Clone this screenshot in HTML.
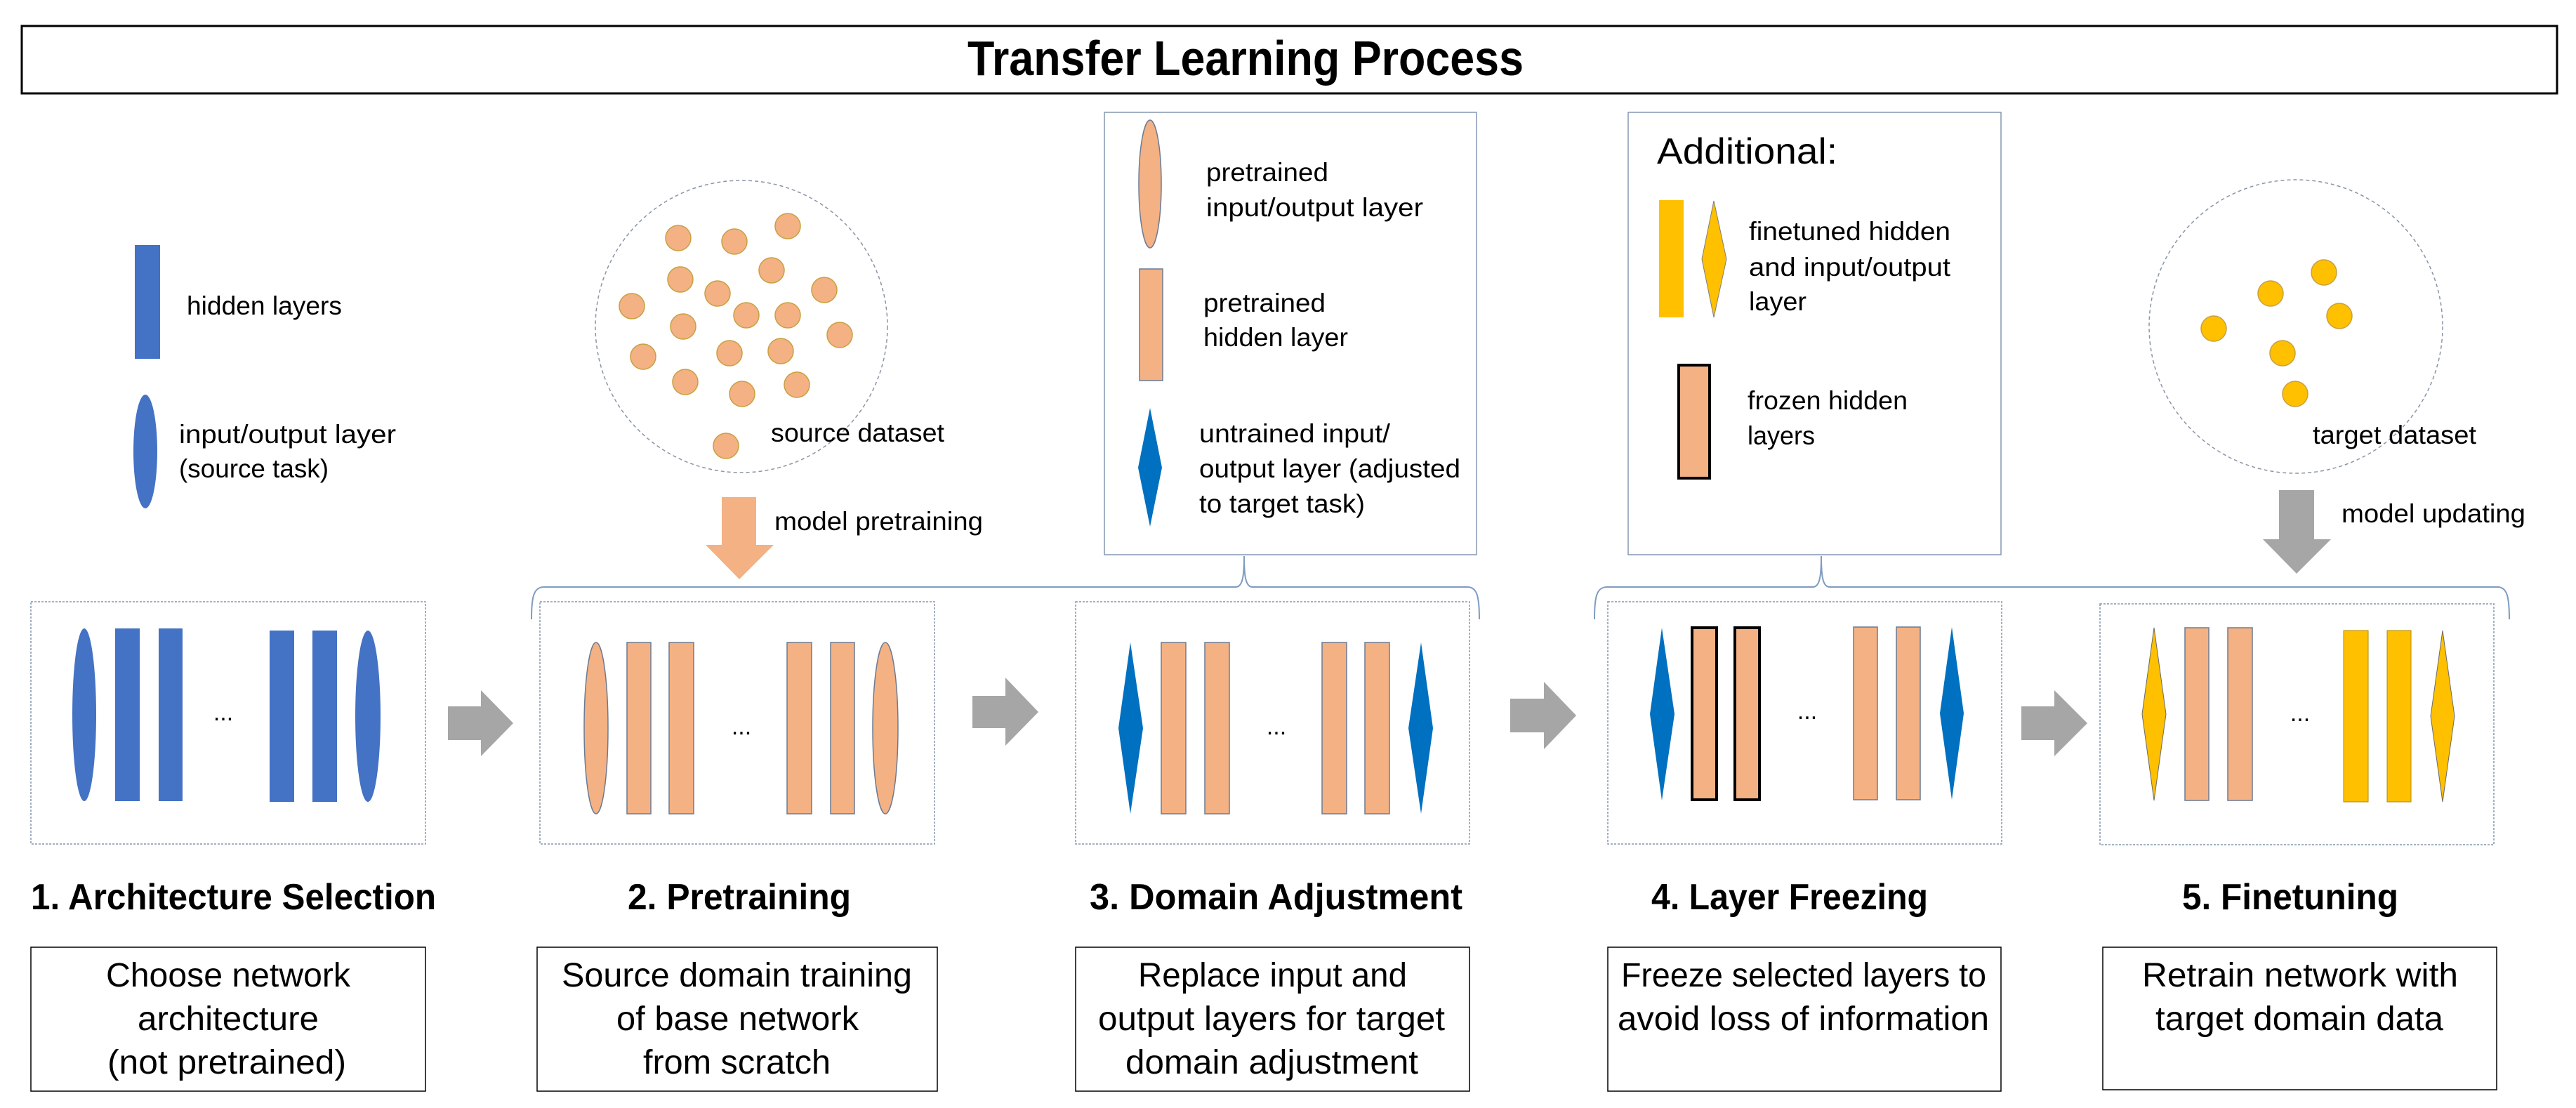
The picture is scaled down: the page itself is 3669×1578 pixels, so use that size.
<!DOCTYPE html>
<html><head><meta charset="utf-8"><style>
html,body{margin:0;padding:0;background:#fff;}
svg{display:block;}
text{font-family:"Liberation Sans",sans-serif;fill:#000;}
</style></head><body>
<svg width="3669" height="1578" viewBox="0 0 3669 1578" xmlns="http://www.w3.org/2000/svg">
<rect x="31" y="37" width="3611" height="96" fill="#fff" stroke="#000" stroke-width="3"/>
<text x="1378" y="107" font-size="70" font-weight="bold" textLength="792" lengthAdjust="spacingAndGlyphs">Transfer Learning Process</text>

<rect x="192" y="349" width="36" height="162" fill="#4472C4"/>
<text x="266" y="448" font-size="37" textLength="221" lengthAdjust="spacingAndGlyphs">hidden layers</text>
<ellipse cx="207" cy="643" rx="17" ry="81" fill="#4472C4"/>
<text x="255" y="631" font-size="37" textLength="309" lengthAdjust="spacingAndGlyphs">input/output layer</text>
<text x="255" y="680" font-size="37" textLength="213" lengthAdjust="spacingAndGlyphs">(source task)</text>

<circle cx="1056" cy="465" r="208" fill="none" stroke="#8A95A5" stroke-width="1.5" stroke-dasharray="5,4"/>
<g fill="#F4B183" stroke="#C8A040" stroke-width="1.5">
<ellipse cx="966" cy="339" rx="18" ry="18"/><ellipse cx="1046" cy="344" rx="18" ry="18"/><ellipse cx="1122" cy="322" rx="18" ry="18"/>
<ellipse cx="1099" cy="385" rx="18" ry="18"/><ellipse cx="969" cy="398" rx="18" ry="18"/><ellipse cx="1022" cy="418" rx="18" ry="18"/>
<ellipse cx="1174" cy="413" rx="18" ry="18"/><ellipse cx="900" cy="436" rx="18" ry="18"/><ellipse cx="1063" cy="449" rx="18" ry="18"/>
<ellipse cx="1122" cy="449" rx="18" ry="18"/><ellipse cx="973" cy="465" rx="18" ry="18"/><ellipse cx="1196" cy="477" rx="18" ry="18"/>
<ellipse cx="916" cy="508" rx="18" ry="18"/><ellipse cx="1039" cy="503" rx="18" ry="18"/><ellipse cx="1112" cy="500" rx="18" ry="18"/>
<ellipse cx="976" cy="544" rx="18" ry="18"/><ellipse cx="1057" cy="561" rx="18" ry="18"/><ellipse cx="1135" cy="548" rx="18" ry="18"/>
<ellipse cx="1034" cy="635" rx="18" ry="18"/>
</g>
<text x="1098" y="629" font-size="37" textLength="247" lengthAdjust="spacingAndGlyphs">source dataset</text>
<polygon points="1028,708 1077,708 1077,776 1102,776 1053,825 1005,776 1028,776" fill="#F4B183"/>
<text x="1103" y="755" font-size="37" textLength="297" lengthAdjust="spacingAndGlyphs">model pretraining</text>

<rect x="1573" y="160" width="530" height="630" fill="#fff" stroke="#8497B0" stroke-width="1.5"/>
<ellipse cx="1638" cy="262" rx="16" ry="91" fill="#F4B183" stroke="#6B7B95" stroke-width="1.5"/>
<text x="1718" y="258" font-size="37" textLength="174" lengthAdjust="spacingAndGlyphs">pretrained</text>
<text x="1718" y="308" font-size="37" textLength="309" lengthAdjust="spacingAndGlyphs">input/output layer</text>
<rect x="1623" y="383" width="33" height="159" fill="#F4B183" stroke="#6B7B95" stroke-width="1.5"/>
<text x="1714" y="444" font-size="37" textLength="174" lengthAdjust="spacingAndGlyphs">pretrained</text>
<text x="1714" y="493" font-size="37" textLength="206" lengthAdjust="spacingAndGlyphs">hidden layer</text>
<polygon points="1638,581 1655,666 1638,750 1621,666" fill="#0070C0"/>
<text x="1708" y="630" font-size="37" textLength="272" lengthAdjust="spacingAndGlyphs">untrained input/</text>
<text x="1708" y="680" font-size="37" textLength="372" lengthAdjust="spacingAndGlyphs">output layer (adjusted</text>
<text x="1708" y="730" font-size="37" textLength="236" lengthAdjust="spacingAndGlyphs">to target task)</text>

<rect x="2319" y="160" width="531" height="630" fill="#fff" stroke="#8497B0" stroke-width="1.5"/>
<text x="2360" y="233" font-size="52" textLength="257" lengthAdjust="spacingAndGlyphs">Additional:</text>
<rect x="2363" y="285" width="35" height="167" fill="#FFC000"/>
<polygon points="2441,286 2459,369 2441,452 2424,369" fill="#FFC000" stroke="#7F7F7F" stroke-width="1"/>
<text x="2491" y="342" font-size="37" textLength="287" lengthAdjust="spacingAndGlyphs">finetuned hidden</text>
<text x="2491" y="393" font-size="37" textLength="287" lengthAdjust="spacingAndGlyphs">and input/output</text>
<text x="2491" y="442" font-size="37" textLength="82" lengthAdjust="spacingAndGlyphs">layer</text>
<rect x="2391" y="520" width="44" height="161" fill="#F4B183" stroke="#000" stroke-width="4"/>
<text x="2489" y="583" font-size="37" textLength="228" lengthAdjust="spacingAndGlyphs">frozen hidden</text>
<text x="2489" y="633" font-size="37" textLength="96" lengthAdjust="spacingAndGlyphs">layers</text>

<circle cx="3270" cy="465" r="209" fill="none" stroke="#8A95A5" stroke-width="1.5" stroke-dasharray="5,4"/>
<g fill="#FFC000" stroke="#C8A040" stroke-width="1.5">
<ellipse cx="3310" cy="388" rx="18" ry="18"/><ellipse cx="3234" cy="418" rx="18" ry="18"/><ellipse cx="3332" cy="450" rx="18" ry="18"/>
<ellipse cx="3153" cy="468" rx="18" ry="18"/><ellipse cx="3251" cy="503" rx="18" ry="18"/><ellipse cx="3269" cy="561" rx="18" ry="18"/>
</g>
<text x="3294" y="632" font-size="37" textLength="233" lengthAdjust="spacingAndGlyphs">target dataset</text>
<polygon points="3246,698 3296,698 3296,768 3320,768 3271,817 3223,768 3246,768" fill="#A6A6A6"/>
<text x="3335" y="744" font-size="37" textLength="262" lengthAdjust="spacingAndGlyphs">model updating</text>

<path d="M757,882 C757,850 760,836 775,836 L1760,836 C1770,836 1772,820 1772,792 C1772,820 1774,836 1784,836 L2090,836 C2104,836 2107,850 2107,882" fill="none" stroke="#7F9CC0" stroke-width="2"/>
<path d="M2271,882 C2271,850 2274,836 2289,836 L2582,836 C2592,836 2594,820 2594,792 C2594,820 2596,836 2606,836 L3557,836 C3571,836 3574,850 3574,882" fill="none" stroke="#7F9CC0" stroke-width="2"/>

<g fill="#fff" stroke="#8497B0" stroke-width="1.5" stroke-dasharray="3,2">
<rect x="44" y="857" width="562" height="345"/>
<rect x="769" y="857" width="562" height="345"/>
<rect x="1532" y="857" width="561" height="345"/>
<rect x="2290" y="857" width="561" height="345"/>
<rect x="2991" y="860" width="561" height="343"/>
</g>

<g fill="#4472C4">
<ellipse cx="120" cy="1018" rx="17" ry="123"/>
<rect x="164" y="895" width="35" height="246"/><rect x="226" y="895" width="34" height="246"/>
<rect x="384" y="898" width="35" height="244"/><rect x="445" y="898" width="35" height="244"/>
<ellipse cx="524" cy="1020" rx="18" ry="122"/>
</g>
<text x="318" y="1026" font-size="34" text-anchor="middle">...</text>

<g fill="#F4B183" stroke="#6B7B95" stroke-width="1.5">
<ellipse cx="849" cy="1037" rx="17" ry="122"/>
<rect x="893" y="915" width="34" height="244"/><rect x="953" y="915" width="35" height="244"/>
<rect x="1121" y="915" width="35" height="244"/><rect x="1183" y="915" width="34" height="244"/>
<ellipse cx="1261" cy="1037" rx="18" ry="122"/>
</g>
<text x="1056" y="1046" font-size="34" text-anchor="middle">...</text>

<g fill="#0070C0">
<polygon points="1610,915 1628,1037 1610,1159 1593,1037"/>
<polygon points="2024,915 2041,1037 2024,1159 2006,1037"/>
</g>
<g fill="#F4B183" stroke="#6B7B95" stroke-width="1.5">
<rect x="1654" y="915" width="35" height="244"/><rect x="1716" y="915" width="35" height="244"/>
<rect x="1883" y="915" width="35" height="244"/><rect x="1944" y="915" width="35" height="244"/>
</g>
<text x="1818" y="1046" font-size="34" text-anchor="middle">...</text>

<g fill="#0070C0">
<polygon points="2367,894 2385,1017 2367,1140 2350,1017"/>
<polygon points="2780,893 2797,1016 2780,1139 2763,1016"/>
</g>
<g fill="#F4B183" stroke="#000" stroke-width="4">
<rect x="2410" y="894" width="35" height="245"/><rect x="2471" y="894" width="35" height="245"/>
</g>
<g fill="#F4B183" stroke="#6B7B95" stroke-width="1.5">
<rect x="2640" y="893" width="34" height="246"/><rect x="2701" y="893" width="34" height="246"/>
</g>
<text x="2574" y="1024" font-size="34" text-anchor="middle">...</text>

<g fill="#FFC000" stroke="#6B6B6B" stroke-width="1">
<polygon points="3068,894 3085,1017 3068,1140 3051,1017"/>
<polygon points="3479,898 3496,1020 3479,1142 3462,1020"/>
</g>
<g fill="#F4B183" stroke="#6B7B95" stroke-width="1.5">
<rect x="3112" y="894" width="34" height="246"/><rect x="3173" y="894" width="35" height="246"/>
</g>
<g fill="#FFC000" stroke="#B08A00" stroke-width="1">
<rect x="3338" y="898" width="35" height="244"/><rect x="3400" y="898" width="34" height="244"/>
</g>
<text x="3276" y="1027" font-size="34" text-anchor="middle">...</text>

<g fill="#A6A6A6">
<polygon points="638,1006 685,1006 685,983 731,1030 685,1077 685,1054 638,1054"/>
<polygon points="1385,991 1432,991 1432,965 1479,1014 1432,1062 1432,1037 1385,1037"/>
<polygon points="2151,995 2199,995 2199,971 2245,1019 2199,1067 2199,1043 2151,1043"/>
<polygon points="2879,1006 2926,1006 2926,983 2973,1030 2926,1077 2926,1054 2879,1054"/>
</g>

<g font-weight="bold" font-size="52">
<text x="44" y="1295" textLength="577" lengthAdjust="spacingAndGlyphs">1. Architecture Selection</text>
<text x="894" y="1295" textLength="318" lengthAdjust="spacingAndGlyphs">2. Pretraining</text>
<text x="1552" y="1295" textLength="531" lengthAdjust="spacingAndGlyphs">3. Domain Adjustment</text>
<text x="2352" y="1295" textLength="394" lengthAdjust="spacingAndGlyphs">4. Layer Freezing</text>
<text x="3108" y="1295" textLength="308" lengthAdjust="spacingAndGlyphs">5. Finetuning</text>
</g>

<g fill="#fff" stroke="#000" stroke-width="1.5">
<rect x="44" y="1349" width="562" height="205"/>
<rect x="765" y="1349" width="570" height="205"/>
<rect x="1532" y="1349" width="561" height="205"/>
<rect x="2290" y="1349" width="560" height="205"/>
<rect x="2995" y="1349" width="561" height="203"/>
</g>
<g font-size="48">
<text x="151" y="1405" textLength="348" lengthAdjust="spacingAndGlyphs">Choose network</text>
<text x="196" y="1467" textLength="258" lengthAdjust="spacingAndGlyphs">architecture</text>
<text x="153" y="1529" textLength="340" lengthAdjust="spacingAndGlyphs">(not pretrained)</text>
<text x="800" y="1405" textLength="499" lengthAdjust="spacingAndGlyphs">Source domain training</text>
<text x="878" y="1467" textLength="345" lengthAdjust="spacingAndGlyphs">of base network</text>
<text x="916" y="1529" textLength="267" lengthAdjust="spacingAndGlyphs">from scratch</text>
<text x="1621" y="1405" textLength="383" lengthAdjust="spacingAndGlyphs">Replace input and</text>
<text x="1564" y="1467" textLength="494" lengthAdjust="spacingAndGlyphs">output layers for target</text>
<text x="1603" y="1529" textLength="417" lengthAdjust="spacingAndGlyphs">domain adjustment</text>
<text x="2309" y="1405" textLength="520" lengthAdjust="spacingAndGlyphs">Freeze selected layers to</text>
<text x="2304" y="1467" textLength="529" lengthAdjust="spacingAndGlyphs">avoid loss of information</text>
<text x="3051" y="1405" textLength="450" lengthAdjust="spacingAndGlyphs">Retrain network with</text>
<text x="3070" y="1467" textLength="410" lengthAdjust="spacingAndGlyphs">target domain data</text>
</g>
</svg>
</body></html>
